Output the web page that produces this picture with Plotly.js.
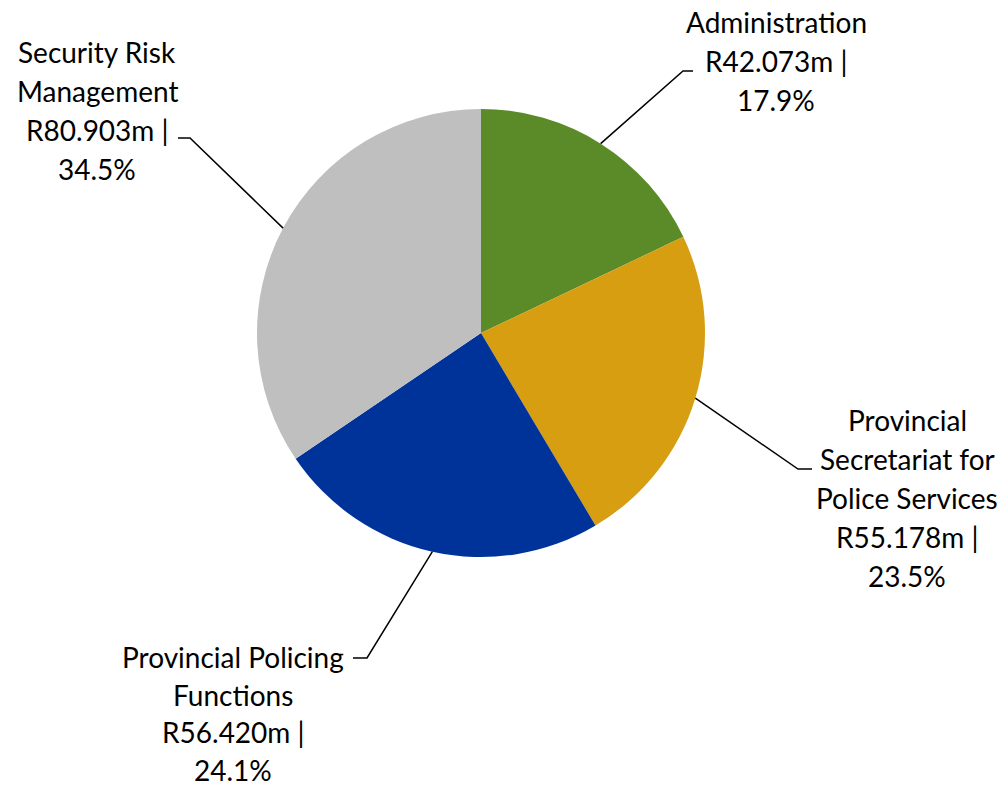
<!DOCTYPE html>
<html><head><meta charset="utf-8">
<script src="https://cdn.plot.ly/plotly-3.0.1.min.js"></script>
<style>html,body{margin:0;padding:0;background:#fff}</style>
</head><body>
<div id="chart" style="width:1006px;height:786px"></div>
<script>
const categories = ["Administration", "Provincial Secretariat for Police Services", "Provincial Policing Functions", "Security Risk Management"];
const values = [42.073, 55.178, 56.420, 80.903];
const colors = ["#5B8A28", "#D69E10", "#003399", "#BFBFBF"];
// label text lines (as wrapped in the reference)
const nameLines = [["Administration"], ["Provincial", "Secretariat for", "Police Services"], ["Provincial Policing", "Functions"], ["Security Risk", "Management"]];

const W = 1006, H = 786;
const cx = 481, cy = 333, R = 224;
// label block layout: center x, first-line y, line gap; elbow points for leader
const labelPos = [
  {x: 776, y: 22, gap: 39, elbow: [683, 71], end: [693, 71]},
  {x: 907, y: 420, gap: 39, elbow: [798, 469], end: [812, 469]},
  {x: 233, y: 657, gap: 37.5, elbow: [367, 658], end: [353, 658]},
  {x: 97, y: 52, gap: 39, elbow: [190, 138], end: [178, 138]}
];

const total = values.reduce((a, b) => a + b, 0);
const px = v => v / W, py = v => 1 - v / H;

const annotations = [], shapes = [];
let cum = 0;
values.forEach((v, i) => {
  const pct = (100 * v / total).toFixed(1) + "%";
  const lines = nameLines[i].concat(["R" + v.toFixed(3) + "m |", pct]);
  lines.forEach((t, k) => {
    annotations.push({xref: "paper", yref: "paper", x: px(labelPos[i].x), y: py(labelPos[i].y + k * labelPos[i].gap),
      text: t, showarrow: false, xanchor: "center", yanchor: "middle", borderpad: 0,
      font: {family: "Lato, 'Noto Sans', sans-serif", size: 28, color: "#000"}});
  });
  const mid = (cum + v / 2) / total * 2 * Math.PI;
  cum += v;
  const ex = cx + R * Math.sin(mid), ey = cy - R * Math.cos(mid);
  const e = labelPos[i].elbow, f = labelPos[i].end;
  shapes.push({type: "path", xref: "paper", yref: "paper",
    path: `M ${px(ex)} ${py(ey)} L ${px(e[0])} ${py(e[1])} L ${px(f[0])} ${py(f[1])}`,
    line: {color: "#000", width: 1.5}});
});

const trace = {
  type: "pie", labels: categories, values: values, sort: false, direction: "clockwise", rotation: 0,
  marker: {colors: colors, line: {width: 0}}, textinfo: "none", hoverinfo: "none",
  domain: {x: [(cx - R) / W, (cx + R) / W], y: [1 - (cy + R) / H, 1 - (cy - R) / H]}
};
Plotly.newPlot("chart", [trace], {
  width: W, height: H, margin: {l: 0, r: 0, t: 0, b: 0}, showlegend: false,
  paper_bgcolor: "#fff", annotations: annotations, shapes: shapes
}, {staticPlot: true});
</script>
</body></html>
